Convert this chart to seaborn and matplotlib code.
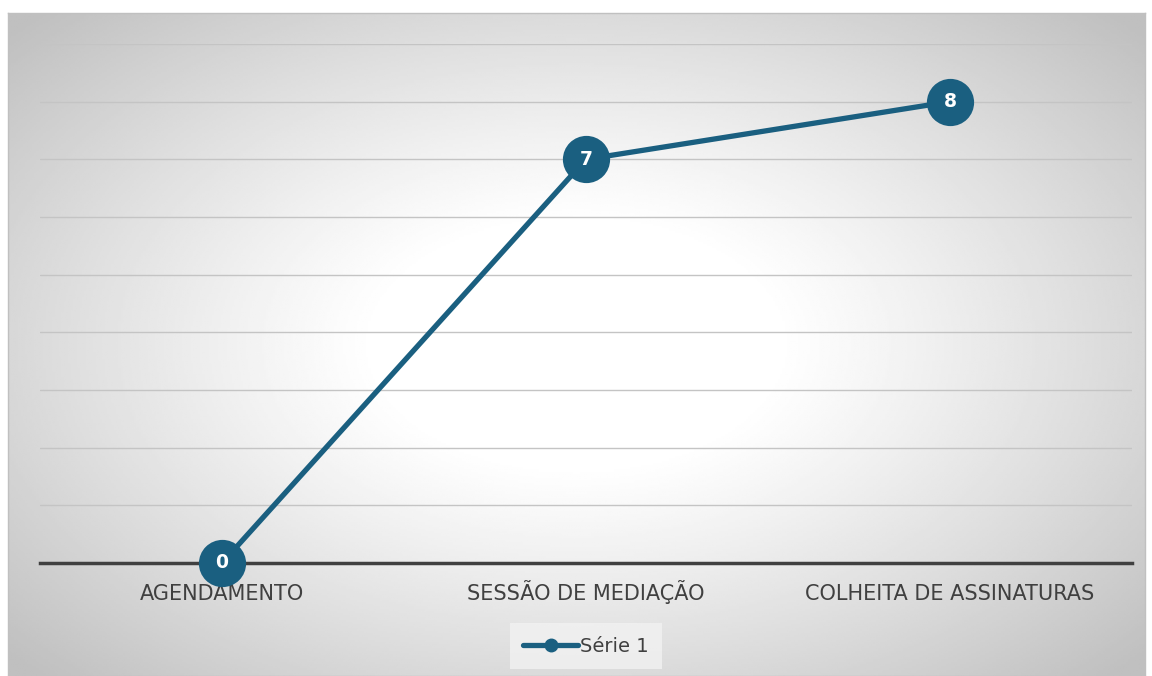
import matplotlib.pyplot as plt
import seaborn as sns
import pandas as pd
import numpy as np

etapas = ['AGENDAMENTO', 'SESSÃO DE MEDIAÇÃO', 'COLHEITA DE ASSINATURAS']
serie_1 = [0, 7, 8]

cor = '#1A5F80'

df = pd.DataFrame({'etapa': etapas, 'valor': serie_1})

sns.set_style('white')
plt.rcParams['font.family'] = ['DejaVu Sans']

fig = plt.figure(figsize=(11.52, 6.76), dpi=100)

# painel de fundo com gradiente radial
bg = fig.add_axes([8 / 1152, 0, (1145 - 8) / 1152, (676 - 13) / 676])
yy, xx = np.mgrid[-1:1:300j, -1:1:500j]
r = np.sqrt((xx / 1.0) ** 2 + (yy / 1.05) ** 2)
shade = np.clip(1 - 0.25 * np.clip((r - 0.35) / 1.0, 0, 1) ** 1.1, 0, 1)
bg.imshow(shade, cmap='gray', vmin=0, vmax=1, aspect='auto', extent=[0, 1, 0, 1])
bg.set_xlim(0, 1)
bg.set_ylim(0, 1)
bg.set_xticks([])
bg.set_yticks([])
for s in bg.spines.values():
    s.set_color('#c0c0c0')
    s.set_linewidth(1)

ax = fig.add_axes([40 / 1152, (676 - 563) / 676, (1132 - 40) / 1152, (563 - 44) / 676])
ax.patch.set_alpha(0)

sns.lineplot(data=df, x='etapa', y='valor', ax=ax, color=cor, linewidth=3.8,
             marker='o', markersize=34, markeredgewidth=0, sort=False,
             legend=False, zorder=5, clip_on=False)

for i, v in enumerate(serie_1):
    ax.text(i, v, str(v), ha='center', va='center', color='white',
            fontsize=13.5, fontweight='bold', zorder=6, clip_on=False)

ax.set_xlim(-0.5, 2.5)
ax.set_ylim(0, 9)
ax.set_yticks(range(0, 10))
ax.set_yticklabels([])
ax.yaxis.grid(True, color='#c4c4c4', linewidth=1)
ax.xaxis.grid(False)
ax.tick_params(axis='y', length=0)
ax.tick_params(axis='x', length=0, pad=27, labelsize=15, labelcolor='#404040')
for lbl in ax.get_xticklabels():
    lbl.set_verticalalignment('baseline')
ax.set_xlabel('')
ax.set_ylabel('')
for s in ['top', 'right', 'left']:
    ax.spines[s].set_visible(False)
ax.spines['bottom'].set_color('#404040')
ax.spines['bottom'].set_linewidth(2.5)
ax.spines['bottom'].set_zorder(4)

# legenda
h = plt.Line2D([], [], color=cor, linewidth=3.8, marker='o', markersize=9)
leg = fig.legend([h], ['Série 1'], loc='center', bbox_to_anchor=(586 / 1152, (676 - 646) / 676),
                 frameon=True, fontsize=14, handlelength=2.8, handletextpad=0.1,
                 borderpad=0.7, borderaxespad=0, fancybox=False)
leg.get_frame().set_facecolor('#f2f2f2')
leg.get_frame().set_edgecolor('none')
for t in leg.get_texts():
    t.set_color('#404040')

fig.savefig('out.png', dpi=100)
